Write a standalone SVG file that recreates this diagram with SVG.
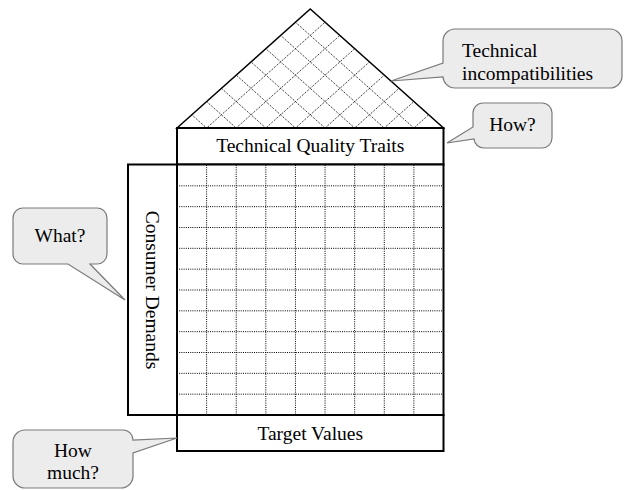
<svg xmlns="http://www.w3.org/2000/svg" width="624" height="490" viewBox="0 0 624 490">
<style>
.t{font-family:"Liberation Serif","Times New Roman",serif;font-size:19.5px;fill:#000}
.box{fill:#fff;stroke:#000;stroke-width:2}
.dot{stroke:#000;stroke-width:1;stroke-dasharray:1 1.2;fill:none}
.call{fill:#ececec;stroke:#7a7a7a;stroke-width:1.2}
.roof{fill:#fff;stroke:#000;stroke-width:1.5}
</style>
<rect width="624" height="490" fill="#fff"/>
<g id="roof">
<polygon class="roof" points="177,128 310.25,9 443.5,128"/>
<g class="dot">
<path d="M206.61,128L325.05,22.22M236.22,128L339.86,35.44M265.83,128L354.67,48.67M295.44,128L369.47,61.89M325.06,128L384.28,75.11M354.67,128L399.08,88.33M384.28,128L413.89,101.56M413.89,128L428.69,114.78"/>
<path d="M206.61,128L191.80,114.78M236.22,128L206.61,101.56M265.83,128L221.42,88.33M295.44,128L236.22,75.11M325.06,128L251.03,61.89M354.67,128L265.83,48.67M384.28,128L280.64,35.44M413.89,128L295.44,22.22"/>
</g>
</g>
<g id="technical-quality-traits">
<rect class="box" x="177" y="128" width="266.5" height="36.5"/>
<text class="t" x="310.25" y="152" text-anchor="middle">Technical Quality Traits</text>
</g>
<g id="matrix">
<rect x="177" y="164.5" width="266.5" height="250.5" fill="#fff"/>
<g class="dot">
<path d="M206.61,165V415M236.22,165V415M265.83,165V415M295.44,165V415M325.06,165V415M354.67,165V415M384.28,165V415M413.89,165V415"/>
<path d="M177,185.83H443.5M177,206.67H443.5M177,227.5H443.5M177,248.33H443.5M177,269.17H443.5M177,290H443.5M177,310.83H443.5M177,331.67H443.5M177,352.5H443.5M177,373.33H443.5M177,394.17H443.5"/>
</g>
<rect x="177" y="164.5" width="266.5" height="250.5" fill="none" stroke="#000" stroke-width="2"/>
</g>
<g id="consumer-demands">
<rect class="box" x="128" y="164.5" width="49" height="250.5"/>
<text class="t" transform="translate(146,290) rotate(90)" text-anchor="middle">Consumer Demands</text>
</g>
<g id="target-values">
<rect class="box" x="177" y="415" width="266.5" height="36"/>
<text class="t" x="310.25" y="440" text-anchor="middle">Target Values</text>
</g>
<g id="connectors">
</g>
<g id="callout-incompatibilities">
<path class="call" d="M455,29H610A12,12 0 0 1 622,41V76A12,12 0 0 1 610,88H455A12,12 0 0 1 443,77L391,81L443,63V41A12,12 0 0 1 455,29Z"/>
<text class="t" x="462" y="57">Technical</text>
<text class="t" x="462" y="80">incompatibilities</text>
</g>
<g id="callout-how">
<path class="call" d="M483,103H542A10,10 0 0 1 552,113V138A10,10 0 0 1 542,148H484A10,10 0 0 1 474,139L447,143L473,127V113A10,10 0 0 1 483,103Z"/>
<text class="t" x="512.5" y="131" text-anchor="middle">How?</text>
</g>
<g id="callout-what">
<path class="call" d="M23,208H97A10,10 0 0 1 107,218V254A10,10 0 0 1 97,264H90L125,300L68,264H23A10,10 0 0 1 13,254V218A10,10 0 0 1 23,208Z"/>
<text class="t" x="60" y="242" text-anchor="middle">What?</text>
</g>
<g id="callout-how-much">
<path class="call" d="M25,430H123A10,10 0 0 1 133,440L177,438L133,453V476A12,12 0 0 1 121,488H25A12,12 0 0 1 13,476V442A12,12 0 0 1 25,430Z"/>
<text class="t" x="73" y="457" text-anchor="middle">How</text>
<text class="t" x="73" y="479" text-anchor="middle">much?</text>
</g>
</svg>
